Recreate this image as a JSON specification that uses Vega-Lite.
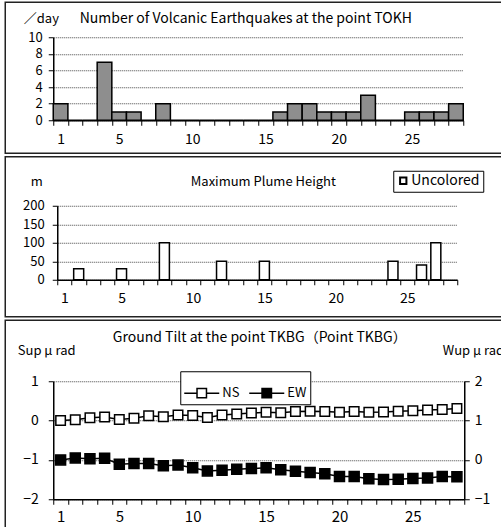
{
  "$schema": "https://vega.github.io/schema/vega-lite/v6.json",
  "padding": {"left": 4.25, "top": 1.25, "right": 0, "bottom": 0},
  "spacing": 1.5,
  "resolve": {"scale": {"fill": "independent"}, "legend": {"fill": "independent"}},
  "config": {
    "font": "Noto Sans CJK JP",
    "view": {"stroke": "#222222", "strokeWidth": 1.5},
    "axis": {
      "domainColor": "black", "domainWidth": 1.5, "tickColor": "black", "tickSize": 5, "tickWidth": 1,
      "labelColor": "black", "labelFontSize": 13, "labelFont": "Noto Sans CJK JP",
      "titleColor": "black", "titleFontWeight": "normal", "titleFontSize": 13, "titleFont": "Noto Sans CJK JP",
      "gridColor": "#444444", "gridDash": [1, 1], "gridWidth": 1
    },
    "legend": {"labelFont": "Noto Sans CJK JP", "labelColor": "black"}
  },
  "vconcat": [
    {
      "width": 500, "height": 151,
      "data": {"values": [
        {"day": 1, "count": 2}, {"day": 2, "count": 0}, {"day": 3, "count": 0}, {"day": 4, "count": 7},
        {"day": 5, "count": 1}, {"day": 6, "count": 1}, {"day": 7, "count": 0}, {"day": 8, "count": 2},
        {"day": 9, "count": 0}, {"day": 10, "count": 0}, {"day": 11, "count": 0}, {"day": 12, "count": 0},
        {"day": 13, "count": 0}, {"day": 14, "count": 0}, {"day": 15, "count": 0}, {"day": 16, "count": 1},
        {"day": 17, "count": 2}, {"day": 18, "count": 2}, {"day": 19, "count": 1}, {"day": 20, "count": 1},
        {"day": 21, "count": 1}, {"day": 22, "count": 3}, {"day": 23, "count": 0}, {"day": 24, "count": 0},
        {"day": 25, "count": 1}, {"day": 26, "count": 1}, {"day": 27, "count": 1}, {"day": 28, "count": 2}
      ]},
      "mark": {"type": "bar", "fill": "#8e8e8e", "stroke": "black", "strokeWidth": 1.5},
      "encoding": {
        "x": {"field": "day", "type": "ordinal",
          "scale": {"type": "band", "domain": [1,2,3,4,5,6,7,8,9,10,11,12,13,14,15,16,17,18,19,20,21,22,23,24,25,26,27,28], "range": [48, 458], "paddingInner": 0, "paddingOuter": 0},
          "axis": {"offset": -33, "tickBand": "extent", "labelAngle": 0, "labelPadding": 7, "labelFontSize": 14,
            "labelExpr": "(datum.value == 1 || datum.value % 5 == 0) ? datum.label : ''", "grid": false,
            "title": "Number of Volcanic Earthquakes at the point TOKH", "titleFontSize": 14,
            "titleAlign": "left", "titleBaseline": "middle", "titleX": 74, "titleY": -102}},
        "y": {"field": "count", "type": "quantitative",
          "scale": {"domain": [0, 10], "range": [118, 35]},
          "axis": {"values": [0, 2, 4, 6, 8, 10], "offset": -48, "grid": true, "labelPadding": 6,
            "title": "／day", "titleAngle": 0, "titleAlign": "left", "titleBaseline": "middle", "titleX": -30, "titleY": 16}}
      }
    },
    {
      "width": 500, "height": 160,
      "data": {"values": [
        {"day": 2, "height": 30, "series": "Uncolored"},
        {"day": 5, "height": 30, "series": "Uncolored"},
        {"day": 8, "height": 100, "series": "Uncolored"},
        {"day": 12, "height": 50, "series": "Uncolored"},
        {"day": 15, "height": 50, "series": "Uncolored"},
        {"day": 24, "height": 50, "series": "Uncolored"},
        {"day": 26, "height": 40, "series": "Uncolored"},
        {"day": 27, "height": 100, "series": "Uncolored"}
      ]},
      "mark": {"type": "bar", "stroke": "black", "strokeWidth": 1.5, "width": {"band": 0.7}},
      "encoding": {
        "x": {"field": "day", "type": "ordinal",
          "scale": {"type": "band", "domain": [1,2,3,4,5,6,7,8,9,10,11,12,13,14,15,16,17,18,19,20,21,22,23,24,25,26,27,28], "range": [52, 452], "paddingInner": 0, "paddingOuter": 0},
          "axis": {"offset": -37, "tickBand": "extent", "labelAngle": 0, "labelPadding": 7, "labelFontSize": 14,
            "labelExpr": "(datum.value == 1 || datum.value % 5 == 0) ? datum.label : ''", "grid": false,
            "title": "Maximum Plume Height", "titleFontSize": 13,
            "titleAlign": "left", "titleBaseline": "middle", "titleX": 185, "titleY": -98}},
        "y": {"field": "height", "type": "quantitative",
          "scale": {"domain": [0, 200], "range": [123, 49]},
          "axis": {"values": [0, 50, 100, 150, 200], "offset": -52, "grid": true, "labelPadding": 8,
            "title": "m", "titleAngle": 0, "titleAlign": "left", "titleBaseline": "middle", "titleX": -27, "titleY": 25}},
        "fill": {"field": "series", "type": "nominal", "scale": {"range": ["#ffffff"]},
          "legend": {"title": null, "orient": "none", "legendX": 388, "legendY": 14, "strokeColor": "black", "fillColor": "white", "padding": 3,
            "symbolType": "square", "symbolSize": 40, "symbolStrokeColor": "black", "symbolStrokeWidth": 2, "labelFontSize": 14, "labelOffset": 1}}
      }
    },
    {
      "width": 500, "height": 215,
      "data": {"values": [
        {"day": 1, "NS": 0.0, "EW": 0.0}, {"day": 2, "NS": 0.02, "EW": 0.05}, {"day": 3, "NS": 0.07, "EW": 0.03},
        {"day": 4, "NS": 0.09, "EW": 0.04}, {"day": 5, "NS": 0.03, "EW": -0.11}, {"day": 6, "NS": 0.06, "EW": -0.09},
        {"day": 7, "NS": 0.12, "EW": -0.09}, {"day": 8, "NS": 0.1, "EW": -0.15}, {"day": 9, "NS": 0.14, "EW": -0.13},
        {"day": 10, "NS": 0.13, "EW": -0.2}, {"day": 11, "NS": 0.08, "EW": -0.28}, {"day": 12, "NS": 0.14, "EW": -0.26},
        {"day": 13, "NS": 0.17, "EW": -0.24}, {"day": 14, "NS": 0.19, "EW": -0.22}, {"day": 15, "NS": 0.21, "EW": -0.2},
        {"day": 16, "NS": 0.2, "EW": -0.25}, {"day": 17, "NS": 0.23, "EW": -0.29}, {"day": 18, "NS": 0.24, "EW": -0.32},
        {"day": 19, "NS": 0.23, "EW": -0.35}, {"day": 20, "NS": 0.21, "EW": -0.42}, {"day": 21, "NS": 0.23, "EW": -0.42},
        {"day": 22, "NS": 0.21, "EW": -0.48}, {"day": 23, "NS": 0.22, "EW": -0.5}, {"day": 24, "NS": 0.24, "EW": -0.49},
        {"day": 25, "NS": 0.25, "EW": -0.47}, {"day": 26, "NS": 0.27, "EW": -0.46}, {"day": 27, "NS": 0.28, "EW": -0.42},
        {"day": 28, "NS": 0.31, "EW": -0.43}
      ]},
      "encoding": {
        "x": {"field": "day", "type": "ordinal", "bandPosition": 0.5,
          "scale": {"type": "band", "domain": [1,2,3,4,5,6,7,8,9,10,11,12,13,14,15,16,17,18,19,20,21,22,23,24,25,26,27,28], "range": [48, 459], "paddingInner": 0, "paddingOuter": 0},
          "axis": {"offset": -36, "tickBand": "extent", "labelAngle": 0, "labelPadding": 5, "labelFontSize": 15,
            "labelExpr": "(datum.value == 1 || datum.value % 5 == 0) ? datum.label : ''", "grid": false,
            "title": "Ground Tilt at the point TKBG（Point TKBG）", "titleFontSize": 14,
            "titleAlign": "left", "titleBaseline": "middle", "titleX": 107, "titleY": -162}}
      },
      "layer": [
        {
          "encoding": {
            "y": {"field": "NS", "type": "quantitative",
              "scale": {"domain": [-2, 1], "range": [179, 61]},
              "axis": {"values": [-2, -1, 0, 1], "offset": -48, "grid": true, "labelPadding": 10, "labelFontSize": 14,
                "title": "Sup μ rad", "titleAngle": 0, "titleAlign": "left", "titleBaseline": "middle", "titleX": -36, "titleY": 30}}
          },
          "layer": [
            {"mark": {"type": "line", "stroke": "black", "strokeWidth": 1.5}, "encoding": {}},
            {"mark": {"type": "point", "shape": "square", "filled": true, "size": 90, "stroke": "black", "strokeWidth": 1.5, "opacity": 1},
             "encoding": {"fill": {"datum": "NS", "type": "nominal",
               "scale": {"domain": ["NS", "EW"], "range": ["#ffffff", "#000000"]},
               "legend": {"title": null, "orient": "none", "legendX": 175, "legendY": 51, "direction": "horizontal",
                 "strokeColor": "black", "fillColor": "white", "padding": 3,
                 "symbolType": "M-1,0H-0.27M0.27,0H1M-0.27,-0.27H0.27V0.27H-0.27Z", "symbolSize": 1225,
                 "symbolStrokeColor": "black", "symbolStrokeWidth": 1.5, "labelFontSize": 13, "labelOffset": 2, "columnPadding": 6}}}}
          ]
        },
        {
          "encoding": {
            "y": {"field": "EW", "type": "quantitative",
              "scale": {"domain": [-1, 2], "range": [179, 61]},
              "axis": {"orient": "right", "values": [-1, 0, 1, 2], "offset": -41, "grid": false, "labelPadding": 5, "labelFontSize": 14,
                "title": "Wup μ rad", "titleAngle": 0, "titleAlign": "left", "titleBaseline": "middle", "titleX": -22, "titleY": 30}}
          },
          "layer": [
            {"mark": {"type": "line", "stroke": "black", "strokeWidth": 1.5}, "encoding": {}},
            {"mark": {"type": "point", "shape": "square", "filled": true, "size": 100, "stroke": "black", "strokeWidth": 1.5, "opacity": 1},
             "encoding": {"fill": {"datum": "EW", "type": "nominal"}}}
          ]
        }
      ],
      "resolve": {"scale": {"y": "independent"}}
    }
  ]
}
